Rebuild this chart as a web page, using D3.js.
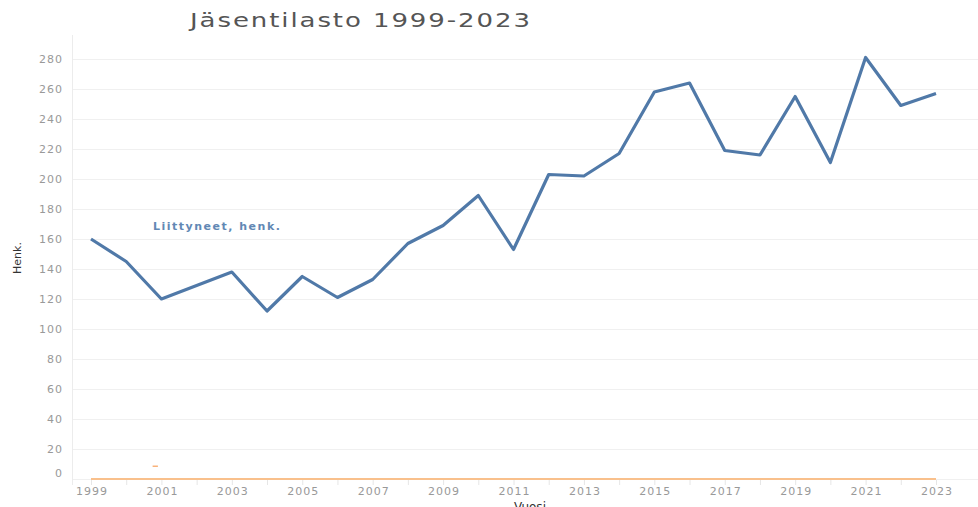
<!DOCTYPE html>
<html>
<head>
<meta charset="utf-8">
<script src="https://cdn.jsdelivr.net/npm/d3@7"></script>
<style>
  body { margin: 0; background: #fff; }
  text { font-family: "DejaVu Sans", sans-serif; }
</style>
</head>
<body>
<script>
// data
var years = d3.range(1999, 2024);
var joined = [160, 145, 120, 129, 138, 112, 135, 121, 133, 157, 169, 189, 153,
              203, 202, 217, 258, 264, 219, 216, 255, 211, 281, 249, 257];
var other = years.map(function() { return 0; });
var yTicks = [0, 20, 40, 60, 80, 100, 120, 140, 160, 180, 200, 220, 240, 260, 280];
var xTicks = [1999, 2001, 2003, 2005, 2007, 2009, 2011, 2013, 2015, 2017, 2019, 2021, 2023];

var width = 978, height = 507;

var svg = d3.select("body").append("svg")
    .attr("width", width)
    .attr("height", height);

var x = d3.scaleLinear().domain([1999, 2023]).range([91, 936]);
var y = d3.scaleLinear().domain([0, 296]).range([479, 35]);

// horizontal grid
svg.append("g")
    .selectAll("line")
    .data(yTicks)
    .enter().append("line")
    .attr("x1", 72).attr("x2", width)
    .attr("y1", function(d) { return y(d) + 0.5; })
    .attr("y2", function(d) { return y(d) + 0.5; })
    .attr("stroke", "#f0f0f0");

// y axis line
svg.append("line")
    .attr("x1", 72.5).attr("x2", 72.5)
    .attr("y1", 35).attr("y2", 485)
    .attr("stroke", "#ececec");

// y tick labels (0 label sits a bit higher, as in the original)
svg.append("g")
    .selectAll("text")
    .data(yTicks)
    .enter().append("text")
    .attr("x", 63)
    .attr("y", function(d) { return d === 0 ? y(d) - 6 : y(d); })
    .attr("dy", "0.35em")
    .attr("text-anchor", "end")
    .attr("font-size", 11)
    .attr("letter-spacing", "1px")
    .attr("fill", "#999")
    .text(function(d) { return d; });

// x ticks at every year
svg.append("g")
    .selectAll("line")
    .data(years)
    .enter().append("line")
    .attr("x1", function(d) { return x(d) + 0.5; })
    .attr("x2", function(d) { return x(d) + 0.5; })
    .attr("y1", 480).attr("y2", 485)
    .attr("stroke", "#e6e6e6");

svg.append("g")
    .selectAll("text")
    .data(xTicks)
    .enter().append("text")
    .attr("x", function(d) { return x(d) + 1; })
    .attr("y", 495)
    .attr("text-anchor", "middle")
    .attr("font-size", 11)
    .attr("letter-spacing", "1px")
    .attr("fill", "#999")
    .text(function(d) { return d; });

// axis titles
svg.append("text")
    .attr("x", 530).attr("y", 511)
    .attr("text-anchor", "middle")
    .attr("font-size", 12)
    .attr("fill", "#333")
    .text("Vuosi");

svg.append("text")
    .attr("transform", "translate(21,258) rotate(-90)")
    .attr("text-anchor", "middle")
    .attr("font-size", 11)
    .attr("font-family", "'Liberation Sans Narrow', 'DejaVu Sans Condensed', sans-serif")
    .attr("fill", "#333")
    .text("Henk.");

// title, stretched wide like the original
svg.append("text")
    .attr("transform", "translate(190,27) scale(1.3,1)")
    .attr("font-size", 20)
    .attr("textLength", 340 / 1.3)
    .attr("lengthAdjust", "spacing")
    .attr("fill", "#555")
    .text("Jäsentilasto 1999-2023");

var line = d3.line()
    .x(function(d, i) { return x(years[i]); })
    .y(function(d) { return y(d); });

// second series along zero
svg.append("path")
    .datum(other)
    .attr("fill", "none")
    .attr("stroke", "#f9c08c")
    .attr("stroke-width", 2)
    .attr("d", line);

// small orange mark near 2001
svg.append("line")
    .attr("x1", x(2000.75)).attr("x2", x(2000.9))
    .attr("y1", y(8.5)).attr("y2", y(8.5))
    .attr("stroke", "#f9b27a")
    .attr("stroke-width", 1.5);

// main series
svg.append("path")
    .datum(joined)
    .attr("fill", "none")
    .attr("stroke", "#5079a8")
    .attr("stroke-width", 3.2)
    .attr("stroke-linejoin", "round")
    .attr("d", line);

svg.append("text")
    .attr("x", 153).attr("y", 230)
    .attr("font-size", 11)
    .attr("font-weight", "bold")
    .attr("letter-spacing", "1.5px")
    .attr("fill", "#6288b4")
    .text("Liittyneet, henk.");
</script>
</body>
</html>
